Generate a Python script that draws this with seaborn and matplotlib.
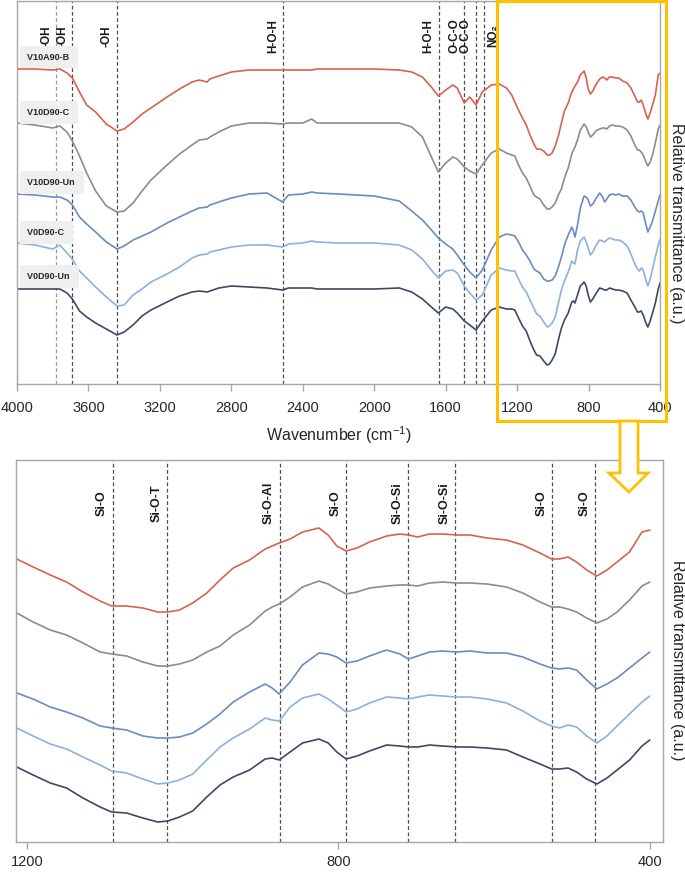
import matplotlib
matplotlib.use("Agg")
import matplotlib.pyplot as plt
from matplotlib.patches import Rectangle, Polygon
import pandas as pd
import seaborn as sns

sns.set_style("white")
plt.rcParams["font.family"] = ["Liberation Sans", "DejaVu Sans"]
plt.rcParams["mathtext.fontset"] = "custom"
plt.rcParams["mathtext.rm"] = "Liberation Sans"

SAMPLES = ["V10A90-B", "V10D90-C", "V10D90-Un", "V0D90-C", "V0D90-Un"]
COLORS = ["#d9624e", "#8c8c8c", "#6a8bc3", "#8db0de", "#3c4966"]
GOLD = "#ffc000"
SPINE = "#a6a6a6"

# wide scan 4000 - 1230 cm-1
WN_WIDE = [4000, 3900, 3800, 3760, 3720, 3690, 3650, 3610, 3560, 3500, 3440, 3400,
           3350, 3300, 3250, 3160, 3090, 3020, 2980, 2935, 2920, 2870, 2800, 2700,
           2600, 2513, 2480, 2400, 2350, 2320, 2200, 2000, 1860, 1790, 1730, 1680,
           1641, 1600, 1560, 1535, 1496, 1465, 1430, 1395, 1345, 1300, 1260, 1230]
RED_WIDE = [316, 316, 315, 316, 312, 307, 293, 280, 273, 261, 254, 256,
            263, 271, 277, 288, 296, 303, 305, 303, 306, 309, 313, 315,
            315, 315, 315, 315, 315, 316, 316, 316, 315, 313, 308, 298,
            289, 295, 300, 297, 282, 288, 280, 293, 300, 301, 297, 290]
GREY_WIDE = [262, 260, 257, 259, 253, 244, 229, 212, 194, 179, 173, 174,
             182, 194, 205, 220, 231, 240, 245, 246, 248, 253, 259, 262,
             262, 261, 262, 262, 266, 262, 262, 262, 262, 258, 248, 228,
             213, 222, 228, 226, 218, 214, 211, 220, 232, 236, 232, 230]
BLUE_WIDE = [191, 190, 188, 188, 185, 180, 168, 161, 153, 143, 136, 139,
             145, 149, 153, 162, 168, 174, 177, 178, 180, 183, 187, 191,
             192, 183, 190, 191, 193, 192, 191, 189, 184, 174, 165, 155,
             147, 141, 136, 130, 120, 113, 107, 115, 135, 148, 151, 150]
LIGHT_WIDE = [142, 140, 136, 140, 132, 126, 114, 107, 98, 88, 79, 80,
              90, 96, 103, 111, 118, 127, 130, 131, 133, 135, 138, 140,
              140, 138, 141, 142, 144, 143, 142, 142, 140, 135, 126, 115,
              107, 114, 115, 112, 99, 92, 85, 90, 110, 117, 115, 114]
NAVY_WIDE = [96, 96, 96, 96, 92, 86, 74, 68, 62, 56, 50, 53,
             60, 69, 75, 83, 89, 93, 94, 93, 94, 97, 99, 98,
             97, 95, 97, 97, 97, 96, 96, 96, 97, 93, 86, 78,
             72, 78, 76, 72, 64, 60, 55, 64, 75, 78, 76, 76]

# fingerprint region 1213 - 400 cm-1
WN_FINGER = [1213, 1192, 1170, 1149, 1128, 1106, 1091, 1072, 1051, 1032, 1019, 1004,
             987, 969, 952, 935, 914, 894, 885, 876, 862, 846, 825, 813,
             802, 790, 776, 760, 738, 721, 710, 698, 683, 666, 648, 631,
             609, 584, 563, 541, 526, 516, 505, 494, 481, 468, 455, 442,
             426, 410, 400]
RED_FINGER = [283, 275, 267, 260, 250, 241, 236, 236, 234, 230, 230, 232,
              239, 249, 262, 274, 282, 293, 296, 299, 303, 310, 314, 307,
              296, 291, 294, 300, 306, 308, 307, 305, 308, 308, 307, 307,
              304, 302, 297, 289, 283, 283, 285, 280, 272, 266, 272, 280,
              290, 310, 312]
GREY_FINGER = [229, 220, 212, 207, 199, 190, 188, 186, 180, 176, 176, 178,
               182, 190, 196, 207, 217, 231, 235, 238, 245, 255, 261, 258,
               253, 248, 250, 254, 256, 257, 257, 256, 259, 260, 259, 259,
               258, 255, 249, 240, 235, 235, 233, 230, 224, 219, 223, 230,
               242, 256, 260]
BLUE_FINGER = [149, 143, 135, 130, 124, 116, 114, 112, 106, 104, 104, 105,
               109, 118, 128, 140, 150, 158, 154, 148, 160, 177, 189, 188,
               185, 179, 181, 186, 192, 188, 183, 186, 190, 191, 190, 191,
               189, 189, 185, 178, 174, 173, 174, 172, 162, 153, 158, 164,
               174, 184, 190]
LIGHT_FINGER = [114, 106, 98, 93, 85, 77, 71, 69, 63, 58, 59, 62,
                68, 82, 95, 104, 113, 124, 122, 121, 135, 144, 148, 143,
                137, 130, 133, 139, 145, 144, 143, 145, 147, 146, 145, 145,
                143, 139, 131, 121, 116, 114, 117, 115, 106, 99, 106, 116,
                128, 140, 146]
NAVY_FINGER = [75, 67, 59, 54, 44, 35, 30, 29, 24, 20, 21, 25,
               31, 45, 57, 65, 72, 83, 84, 82, 90, 99, 103, 99,
               90, 83, 86, 91, 97, 96, 95, 95, 97, 96, 95, 95,
               94, 92, 85, 78, 73, 73, 74, 70, 63, 58, 64, 72,
               82, 96, 102]

TOP_PEAKS = [3780, 3690, 3440, 2510, 1640, 1495, 1430, 1385]
TOP_LABELS = ["-OH", "-OH", "-OH", "H-O-H", "H-O-H", "O-C-O", "O-C-O", "NO₂"]
BOTTOM_PEAKS = [1090, 1020, 875, 790, 710, 650, 525, 470]
BOTTOM_LABELS = ["Si-O", "Si-O-T", "Si-O-Al", "Si-O", "Si-O-Si", "Si-O-Si", "Si-O", "Si-O"]

wide = [RED_WIDE, GREY_WIDE, BLUE_WIDE, LIGHT_WIDE, NAVY_WIDE]
finger = [RED_FINGER, GREY_FINGER, BLUE_FINGER, LIGHT_FINGER, NAVY_FINGER]
frames = []
for name, w, f in zip(SAMPLES, wide, finger):
    frames.append(pd.DataFrame({
        "wavenumber": WN_WIDE + WN_FINGER,
        "transmittance": w + f,
        "sample": name,
    }))
spectra = pd.concat(frames, ignore_index=True)

fig = plt.figure(figsize=(6.85, 8.72), dpi=100)
ax_top = fig.add_axes([0.02482, 0.55963, 0.93869, 0.43922])
ax_bot = fig.add_axes([0.02336, 0.03440, 0.94453, 0.43807])
ax_top.set_zorder(2)


def style_axes(ax, ticks, pad):
    for side in ["left", "right", "top", "bottom"]:
        ax.spines[side].set_color(SPINE)
        ax.spines[side].set_linewidth(1)
    ax.set_yticks([])
    ax.set_xticks(ticks)
    ax.set_xticklabels([str(t) for t in ticks])
    ax.tick_params(axis="x", direction="out", length=5, width=1, color=SPINE,
                   labelsize=10.5, labelcolor="#262626", pad=pad, bottom=True)
    ax.set_ylabel("Relative transmittance (a.u.)", fontsize=11.5, color="#262626",
                  rotation=270)
    ax.yaxis.set_label_position("right")
    ax.yaxis.label.set_ha("center")
    ax.yaxis.label.set_va("center")


for ax in [ax_top, ax_bot]:
    sns.lineplot(data=spectra, x="wavenumber", y="transmittance", hue="sample",
                 hue_order=SAMPLES, palette=COLORS, estimator=None, sort=True,
                 legend=False, linewidth=1.2, ax=ax)

# top panel
ax_top.set_xlim(4000, 400)
ax_top.set_ylim(1, 384)
style_axes(ax_top, [4000, 3600, 3200, 2800, 2400, 2000, 1600, 1200, 800, 400], 7)
ax_top.set_xlabel("Wavenumber (cm$^{-1}$)", fontsize=11.5, color="#262626", labelpad=7)
ax_top.yaxis.set_label_coords(1.025, 0.42)

for wn, lab in zip(TOP_PEAKS, TOP_LABELS):
    ax_top.axvline(wn, color="#9a9a9a" if wn == 3780 else "#4d4d4d", lw=0.9,
                   ls=(0, (3, 2)), zorder=1)
    right_side = lab == "NO₂"
    ax_top.annotate(lab, xy=(wn, 349), xytext=(2 if right_side else -3, 0),
                    textcoords="offset points", rotation=90,
                    ha="left" if right_side else "right", va="center",
                    fontsize=8.5, fontweight="bold", color="#1a1a1a")

for name, yv in zip(SAMPLES, [328, 272.5, 202.5, 152.5, 108.5]):
    ax_top.text(3945, yv, name + " ", ha="left", va="center", fontsize=6.5,
                fontweight="bold", color="#262626",
                bbox=dict(boxstyle="square,pad=0.75", facecolor="#efefef",
                          edgecolor="none"))

# zoom box and arrow
ax_top.add_patch(Rectangle((1313, -36), 366 - 1313, 384 + 36, fill=False,
                           edgecolor=GOLD, lw=2.2, clip_on=False, zorder=6))
ax_top.add_patch(Polygon([(624, -36), (624, -88), (686, -88), (574, -107),
                          (467, -88), (523, -88), (523, -36)], closed=True,
                         facecolor="white", edgecolor=GOLD, lw=2,
                         clip_on=False, zorder=6))

# bottom panel
ax_bot.set_xlim(1214, 383)
ax_bot.set_ylim(0, 382)
style_axes(ax_bot, [1200, 800, 400], 4.5)
ax_bot.set_xlabel("")
ax_bot.yaxis.set_label_coords(1.023, 0.476)

for wn, lab in zip(BOTTOM_PEAKS, BOTTOM_LABELS):
    ax_bot.axvline(wn, color="#4d4d4d", lw=0.9, ls=(0, (3, 2)), zorder=1)
    ax_bot.annotate(lab, xy=(wn, 339), xytext=(-3.5, 0), textcoords="offset points",
                    rotation=90, ha="right", va="center", fontsize=9,
                    fontweight="bold", color="#1a1a1a")

fig.savefig("out.png", dpi=100)
